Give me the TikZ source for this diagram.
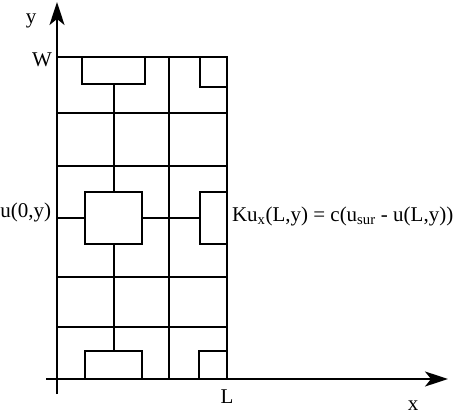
\documentclass[tikz,border=0pt]{standalone}
\usepackage{fontspec}
\setmainfont{Liberation Serif}
\usetikzlibrary{arrows.meta,positioning}

\begin{document}
\begin{tikzpicture}[
    x=1pt,y=-1pt,line width=2pt,
    axis/.style={-{Stealth[length=23pt,width=15pt,inset=6pt]}},
    cell/.style={draw,rectangle,inner sep=0pt,anchor=north west},
    lbl/.style={inner sep=0pt,font=\fontsize{21}{24}\selectfont}
  ]
  \useasboundingbox (0,0) rectangle (455,417);
  % grid corners
  \coordinate (o) at (57,379);
  \coordinate (w) at (57,57);
  \coordinate (lw) at (227,57);
  \coordinate (l) at (227,379);
  % axes
  \draw[axis] (57,394) -- (57,2);
  \draw[axis] (46,379) -- (448,379);
  % outer edge and grid lines
  \draw (w) -- (lw) -- (l);
  \draw (57,113) -- (227,113);
  \draw (57,166) -- (227,166);
  \draw (57,277) -- (227,277);
  \draw (57,327) -- (227,327);
  \draw (169,57) -- (169,379);
  % boxes
  \node[cell,minimum width=63pt,minimum height=27pt] (tlbox) at (81,56) {};
  \node[cell,minimum width=27pt,minimum height=30pt] (trbox) at (199,56) {};
  \node[cell,minimum width=57pt,minimum height=52pt] (midbox) at (84,191) {};
  \node[cell,minimum width=27pt,minimum height=52pt] (mrbox) at (199,191) {};
  \node[cell,minimum width=57pt,minimum height=28pt] (blbox) at (84,350) {};
  \node[cell,minimum width=28pt,minimum height=28pt] (brbox) at (198,350) {};
  % links between boxes
  \coordinate (lmid) at (midbox.west -| w);
  \draw (tlbox.south) -- (midbox.north);
  \draw (midbox.south) -- (blbox.north);
  \draw (lmid) -- (midbox.west);
  \draw (midbox.east) -- (mrbox.west);
  % labels
  \node[lbl] (ylbl) at (31,21) {y};
  \node[lbl] (xlbl) at (413,406) {x};
  \node[lbl,anchor=east] (wlbl) at (53,60) {W};
  \node[lbl] (llbl) at (227,397) {L};
  \node[lbl,anchor=east] (ulbl) at (52,212) {u(0,y)};
  \node[lbl,anchor=west] (bc) at (231,216)
    {Ku\textsubscript{x}(L,y) = c(u\textsubscript{sur} - u(L,y))};
\end{tikzpicture}
\end{document}
